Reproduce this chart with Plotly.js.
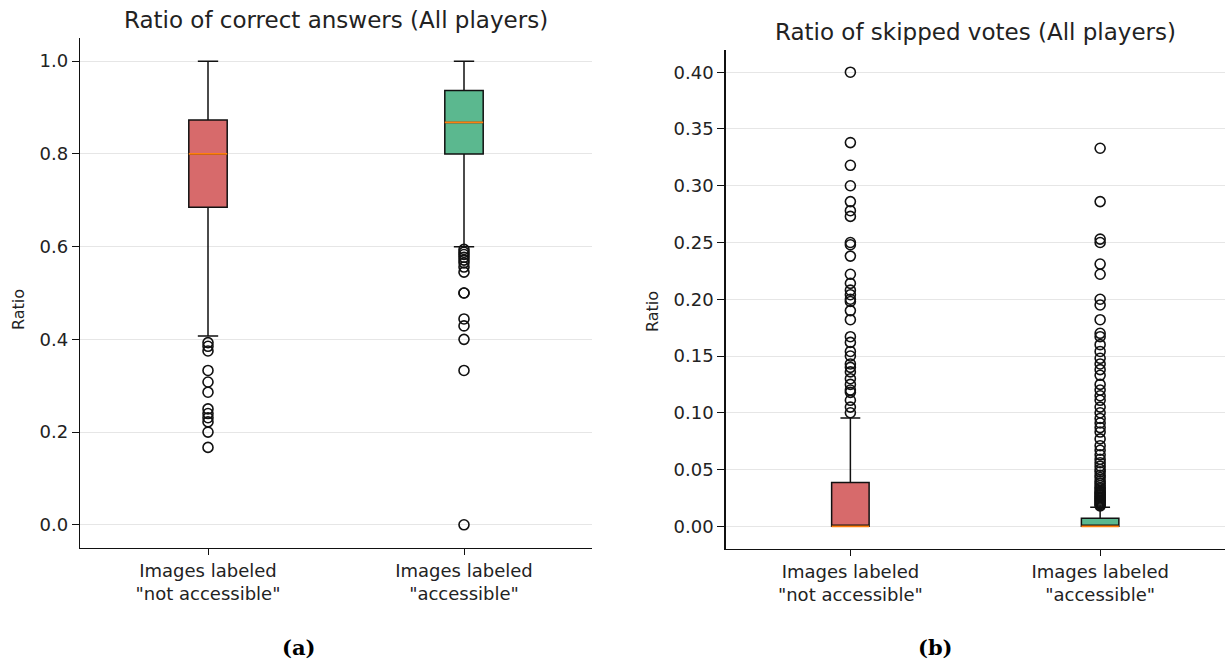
<!DOCTYPE html>
<html>
<head>
<meta charset="utf-8">
<script src="https://cdn.plot.ly/plotly-3.0.1.min.js"></script>
<style>html,body{margin:0;padding:0;background:#fff;}#chart{width:1225px;height:664px;}</style>
</head>
<body>
<div id="chart"></div>
<script>
// ---------- data ----------
const categories = ['Images labeled<br>"not accessible"', 'Images labeled<br>"accessible"'];

// (a) Ratio of correct answers
const correctQ1 = [0.685, 0.800];
const correctMedian = [0.800, 0.868];
const correctQ3 = [0.873, 0.937];
const correctLow = [0.407, 0.600];
const correctHigh = [1.0, 1.0];
const correctOutNotAcc = [0.393, 0.385, 0.375, 0.333, 0.308, 0.286, 0.25, 0.24, 0.231, 0.222, 0.2, 0.167];
const correctOutAcc = [0.594, 0.588, 0.583, 0.577, 0.571, 0.565, 0.556, 0.545, 0.5, 0.5, 0.444, 0.429, 0.4, 0.333, 0.0];

// (b) Ratio of skipped votes
const skipQ1 = [0, 0];
const skipMedian = [0, 0];
const skipQ3 = [0.0385, 0.007];
const skipLow = [0, 0];
const skipHigh = [0.0955, 0.0167];
const skipOutNotAcc = [0.4, 0.338, 0.318, 0.3, 0.286, 0.278, 0.273, 0.25, 0.248, 0.238, 0.222, 0.214, 0.208, 0.204, 0.2, 0.198, 0.19, 0.182, 0.167, 0.162, 0.154, 0.15, 0.143, 0.14, 0.136, 0.13, 0.125, 0.12, 0.118, 0.111, 0.105, 0.1];
const skipOutAcc = [0.333, 0.286, 0.253, 0.25, 0.231, 0.222, 0.2, 0.195, 0.182, 0.17, 0.167, 0.16, 0.154, 0.148, 0.143, 0.138, 0.133, 0.125, 0.12, 0.115, 0.111, 0.105, 0.1, 0.095, 0.091, 0.087, 0.083, 0.077, 0.071, 0.067, 0.063, 0.059, 0.056, 0.053, 0.05, 0.048, 0.045, 0.043, 0.04, 0.038, 0.036, 0.034, 0.033, 0.031, 0.03, 0.029, 0.028, 0.027, 0.026, 0.025, 0.024, 0.023, 0.022, 0.021, 0.02, 0.019, 0.018];

// ---------- styles ----------
const positions = [1, 2];
const boxWidth = 0.15;
const fills = ['#d76a6b', '#5bb88f'];
const FONT = 'DejaVu Sans, sans-serif';

function panel(q1, med, q3, lo, hi, outs, xa, ya) {
  const traces = [];
  for (let i = 0; i < 2; i++) {
    traces.push({
      type: 'box', x: [positions[i]], q1: [q1[i]], median: [med[i]], q3: [q3[i]],
      lowerfence: [lo[i]], upperfence: [hi[i]], boxpoints: false,
      width: boxWidth, whiskerwidth: 0.53, fillcolor: fills[i],
      line: {color: '#111', width: 1.5}, xaxis: xa, yaxis: ya, hoverinfo: 'skip'
    });
    traces.push({
      type: 'scatter', mode: 'lines', x: [positions[i] - boxWidth / 2, positions[i] + boxWidth / 2],
      y: [med[i], med[i]], line: {color: '#ff7f0e', width: 1.8}, xaxis: xa, yaxis: ya, hoverinfo: 'skip'
    });
    traces.push({
      type: 'scatter', mode: 'markers', x: outs[i].map(() => positions[i]), y: outs[i],
      marker: {symbol: 'circle-open', size: 10, color: '#111', line: {width: 1.6, color: '#111'}},
      xaxis: xa, yaxis: ya, hoverinfo: 'skip', cliponaxis: false
    });
  }
  return traces;
}

const data = [].concat(
  panel(correctQ1, correctMedian, correctQ3, correctLow, correctHigh, [correctOutNotAcc, correctOutAcc], 'x', 'y'),
  panel(skipQ1, skipMedian, skipQ3, skipLow, skipHigh, [skipOutNotAcc, skipOutAcc], 'x2', 'y2')
);

const H = 664, W = 1225;
const xCommon = {
  range: [0.5, 2.5], tickvals: positions, ticktext: categories, showgrid: false, zeroline: false,
  showline: true, linecolor: '#111', linewidth: 1.2, ticks: 'outside', ticklen: 6, tickcolor: '#111',
  tickfont: {family: FONT, size: 18, color: '#222'}, fixedrange: true
};
const yCommon = {
  showgrid: true, gridcolor: '#e6e6e6', gridwidth: 1, zeroline: false,
  showline: true, linecolor: '#111', linewidth: 1.2, ticks: 'outside', ticklen: 7, tickcolor: '#111',
  tickfont: {family: FONT, size: 18, color: '#222'}, fixedrange: true
};

const layout = {
  width: W, height: H, margin: {l: 0, r: 0, t: 0, b: 0}, showlegend: false,
  paper_bgcolor: '#fff', plot_bgcolor: '#fff',
  xaxis: Object.assign({}, xCommon, {domain: [80 / W, 592 / W], anchor: 'y'}),
  yaxis: Object.assign({}, yCommon, {domain: [(H - 548) / H, (H - 38) / H], range: [-0.05, 1.05],
    tickvals: [0, 0.2, 0.4, 0.6, 0.8, 1.0], tickformat: '.1f', anchor: 'x'}),
  xaxis2: Object.assign({}, xCommon, {domain: [725.5 / W, 1], anchor: 'y2'}),
  yaxis2: Object.assign({}, yCommon, {domain: [(H - 549) / H, (H - 49.5) / H], range: [-0.02, 0.42],
    tickvals: [0, 0.05, 0.1, 0.15, 0.2, 0.25, 0.3, 0.35, 0.4], tickformat: '.2f', anchor: 'x2'}),
  annotations: [
    {text: 'Ratio of correct answers (All players)', x: 336 / W, y: (H - 20) / H, xref: 'paper', yref: 'paper',
     showarrow: false, xanchor: 'center', yanchor: 'middle', font: {family: FONT, size: 23, color: '#222'}},
    {text: 'Ratio of skipped votes (All players)', x: 975 / W, y: (H - 32) / H, xref: 'paper', yref: 'paper',
     showarrow: false, xanchor: 'center', yanchor: 'middle', font: {family: FONT, size: 23, color: '#222'}},
    {text: 'Ratio', x: 18 / W, y: (H - 310) / H, xref: 'paper', yref: 'paper', textangle: -90,
     showarrow: false, xanchor: 'center', yanchor: 'middle', font: {family: FONT, size: 16, color: '#222'}},
    {text: 'Ratio', x: 652 / W, y: (H - 312) / H, xref: 'paper', yref: 'paper', textangle: -90,
     showarrow: false, xanchor: 'center', yanchor: 'middle', font: {family: FONT, size: 16, color: '#222'}},
    {text: '<b>(a)</b>', x: 298 / W, y: (H - 647) / H, xref: 'paper', yref: 'paper',
     showarrow: false, xanchor: 'center', yanchor: 'middle', font: {family: 'DejaVu Serif, serif', size: 21, color: '#000'}},
    {text: '<b>(b)</b>', x: 935 / W, y: (H - 647) / H, xref: 'paper', yref: 'paper',
     showarrow: false, xanchor: 'center', yanchor: 'middle', font: {family: 'DejaVu Serif, serif', size: 21, color: '#000'}}
  ]
};

Plotly.newPlot('chart', data, layout, {displayModeBar: false, staticPlot: true});
</script>
</body>
</html>
